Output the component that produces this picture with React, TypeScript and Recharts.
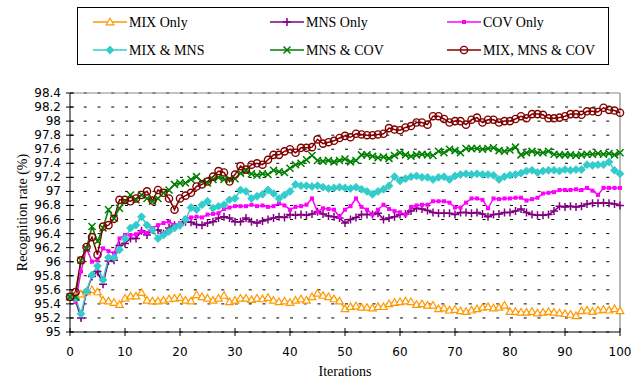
import React from "react";
import { LineChart, Line, XAxis, YAxis, CartesianGrid, ReferenceLine } from "recharts";

const mixOnly = [
  95.5, 95.51, 95.54, 95.57, 95.6, 95.57, 95.45, 95.44, 95.42, 95.39,
  95.48, 95.51, 95.51, 95.56, 95.45, 95.44, 95.44, 95.45, 95.47, 95.48,
  95.49, 95.45, 95.44, 95.53, 95.5, 95.48, 95.45, 95.48, 95.52, 95.43,
  95.45, 95.48, 95.48, 95.46, 95.48, 95.47, 95.49, 95.45, 95.43, 95.44,
  95.42, 95.45, 95.47, 95.45, 95.5, 95.55, 95.52, 95.5, 95.47, 95.44,
  95.33, 95.36, 95.37, 95.35, 95.35, 95.34, 95.36, 95.36, 95.4, 95.42,
  95.43, 95.44, 95.43, 95.39, 95.4, 95.38, 95.38, 95.33, 95.34, 95.31,
  95.32, 95.3, 95.29, 95.31, 95.33, 95.35, 95.36, 95.34, 95.35, 95.38,
  95.29, 95.29, 95.28, 95.28, 95.29, 95.27, 95.28, 95.29, 95.28, 95.27,
  95.26, 95.25, 95.23, 95.3, 95.31, 95.29, 95.31, 95.32, 95.31, 95.33,
  95.3,
];

const mnsOnly = [
  95.5, 95.45, 95.2, 95.57, 95.79, 95.86, 95.68, 96.01, 96.02, 96.23,
  96.26, 96.33, 96.33, 96.44, 96.38, 96.45, 96.45, 96.4, 96.48, 96.52,
  96.52, 96.57, 96.56, 96.53, 96.52, 96.55, 96.57, 96.62, 96.64, 96.62,
  96.57, 96.57, 96.62, 96.57, 96.55, 96.58, 96.6, 96.62, 96.64, 96.63,
  96.67, 96.66, 96.67, 96.66, 96.68, 96.71, 96.68, 96.65, 96.64, 96.62,
  96.55, 96.6, 96.63, 96.67, 96.67, 96.67, 96.69, 96.6, 96.62, 96.64,
  96.67, 96.68, 96.72, 96.76, 96.75, 96.73, 96.7, 96.69, 96.69, 96.69,
  96.67, 96.7, 96.7, 96.69, 96.7, 96.68, 96.64, 96.67, 96.68, 96.7,
  96.7, 96.72, 96.75, 96.7, 96.67, 96.66, 96.66, 96.67, 96.72, 96.79,
  96.78, 96.79, 96.78, 96.79, 96.82, 96.83, 96.83, 96.84, 96.83, 96.82,
  96.8,
];

const covOnly = [
  95.5, 95.43, 95.86, 96.19, 96.0, 96.02, 96.19, 96.15, 96.12, 96.33,
  96.38, 96.38, 96.39, 96.43, 96.41, 96.48, 96.52, 96.55, 96.57, 96.52,
  96.55, 96.62, 96.63, 96.64, 96.63, 96.67, 96.68, 96.69, 96.75, 96.77,
  96.79, 96.79, 96.79, 96.81, 96.79, 96.8, 96.78, 96.79, 96.83, 96.8,
  96.74, 96.78, 96.79, 96.81, 96.9, 96.71, 96.76, 96.75, 96.74, 96.64,
  96.74, 96.79, 96.9, 96.78, 96.74, 96.67, 96.74, 96.81, 96.75, 96.72,
  96.7, 96.67, 96.78, 96.8, 96.81, 96.81, 96.86, 96.86, 96.86, 96.84,
  96.77, 96.77, 96.84, 96.9, 96.9, 96.88, 96.76, 96.9, 96.89, 96.9,
  96.9, 96.91, 96.91, 96.87, 96.89, 96.91, 96.97, 96.98, 96.99, 97.02,
  97.02, 97.02, 97.03, 97.02, 97.05, 97.01, 96.95, 97.05, 97.05, 97.05,
  97.05,
];

const mixMns = [
  95.5, 95.48, 95.26, 95.58, 95.81, 95.94, 95.74, 96.06, 96.06, 96.17,
  96.33, 96.48, 96.52, 96.64, 96.52, 96.45, 96.33, 96.38, 96.43, 96.48,
  96.52, 96.6, 96.77, 96.74, 96.81, 96.86, 96.76, 96.79, 96.81, 96.88,
  96.9, 97.02, 97.0, 96.9, 96.93, 96.96, 97.02, 96.97, 96.9, 96.95,
  97.0, 97.1, 97.08, 97.08, 97.07, 97.08, 97.06, 97.04, 97.05, 97.06,
  97.05, 97.04, 97.06, 97.03, 97.0, 96.96, 97.0, 97.03, 97.08, 97.21,
  97.15, 97.18, 97.21, 97.22, 97.2, 97.2, 97.17, 97.2, 97.21, 97.17,
  97.22, 97.24, 97.25, 97.24, 97.25, 97.24, 97.24, 97.23, 97.17, 97.21,
  97.23, 97.24, 97.26, 97.29, 97.3, 97.27, 97.29, 97.3, 97.3, 97.29,
  97.31, 97.3, 97.31, 97.31, 97.38, 97.37, 97.38, 97.38, 97.42, 97.3,
  97.25,
];

const mnsCov = [
  95.5, 95.5, 96.02, 96.19, 96.5, 96.29, 96.48, 96.74, 96.62, 96.76,
  96.86, 96.95, 96.88, 96.95, 96.9, 96.86, 96.9, 96.98, 97.02, 97.1,
  97.12, 97.12, 97.17, 97.21, 97.14, 97.12, 97.17, 97.2, 97.17, 97.18,
  97.18, 97.26, 97.29, 97.25, 97.23, 97.25, 97.24, 97.3, 97.28, 97.27,
  97.33, 97.38, 97.4, 97.45, 97.51, 97.44, 97.43, 97.44, 97.42, 97.44,
  97.46, 97.42, 97.44, 97.52, 97.52, 97.5, 97.48, 97.49, 97.47, 97.51,
  97.55, 97.52, 97.5, 97.52, 97.53, 97.52, 97.51, 97.57, 97.55, 97.6,
  97.58, 97.55, 97.61, 97.61, 97.61, 97.6, 97.61, 97.62, 97.58, 97.57,
  97.59, 97.63, 97.52, 97.55, 97.57, 97.55, 97.55, 97.57, 97.53, 97.52,
  97.52, 97.52, 97.51, 97.52, 97.53, 97.53, 97.54, 97.53, 97.54, 97.52,
  97.55,
];

const mixMnsCov = [
  95.5, 95.57, 96.02, 96.21, 96.35, 96.1, 96.5, 96.52, 96.61, 96.88,
  96.88, 96.86, 96.9, 96.95, 97.0, 96.87, 97.02, 96.98, 96.9, 96.74,
  96.9, 96.94, 96.98, 97.07, 97.1, 97.14, 97.21, 97.29, 97.27, 97.14,
  97.24, 97.36, 97.31, 97.38, 97.4, 97.38, 97.45, 97.52, 97.52, 97.57,
  97.6, 97.55, 97.62, 97.62, 97.63, 97.74, 97.68, 97.7, 97.72, 97.76,
  97.79, 97.77, 97.82, 97.81, 97.8, 97.8, 97.81, 97.82, 97.9, 97.88,
  97.87, 97.91, 97.93, 97.98, 97.98, 97.95, 98.07, 98.07, 98.03, 97.98,
  98.0, 98.0, 97.95, 98.02, 98.05, 97.98, 98.02, 98.02, 97.98, 98.0,
  98.0, 98.03, 98.07, 98.04, 98.1, 98.1, 98.09, 98.04, 98.04, 98.05,
  98.07, 98.1, 98.1, 98.09, 98.14, 98.14, 98.13, 98.19, 98.16, 98.15,
  98.12,
];

const xTicks = [0, 10, 20, 30, 40, 50, 60, 70, 80, 90, 100];
const yTicks = [
  95, 95.2, 95.4, 95.6, 95.8, 96, 96.2, 96.4, 96.6, 96.8, 97, 97.2, 97.4,
  97.6, 97.8, 98, 98.2, 98.4,
];

const seriesNames = [
  "MIX Only",
  "MNS Only",
  "COV Only",
  "MIX & MNS",
  "MNS & COV",
  "MIX, MNS & COV",
];
const seriesKeys = ["mixOnly", "mnsOnly", "covOnly", "mixMns", "mnsCov", "mixMnsCov"];
const seriesColors = ["#FF9900", "#800080", "#FF00FF", "#33CCCC", "#008000", "#800000"];
const seriesMarkers = ["triangle", "plus", "square", "diamond", "cross", "circle"];

const data = mixOnly.map((v, i) => ({
  iter: i,
  mixOnly: v,
  mnsOnly: mnsOnly[i],
  covOnly: covOnly[i],
  mixMns: mixMns[i],
  mnsCov: mnsCov[i],
  mixMnsCov: mixMnsCov[i],
}));

function Marker({ kind, cx, cy, color }: { kind: string; cx: number; cy: number; color: string }) {
  if (cx == null || cy == null) return null;
  switch (kind) {
    case "triangle":
      return (
        <path
          d={`M${cx},${cy - 3.8} L${cx + 3.8},${cy + 2.8} L${cx - 3.8},${cy + 2.8} Z`}
          fill="#fff"
          stroke={color}
          strokeWidth={1.2}
        />
      );
    case "plus":
      return (
        <path
          d={`M${cx - 4},${cy} L${cx + 4},${cy} M${cx},${cy - 4} L${cx},${cy + 4}`}
          stroke={color}
          strokeWidth={1.5}
        />
      );
    case "square":
      return <rect x={cx - 2} y={cy - 2} width={4} height={4} fill={color} stroke="none" />;
    case "diamond":
      return (
        <path
          d={`M${cx},${cy - 4} L${cx + 4},${cy} L${cx},${cy + 4} L${cx - 4},${cy} Z`}
          fill={color}
          stroke={color}
          strokeWidth={0.8}
        />
      );
    case "cross":
      return (
        <path
          d={`M${cx - 3.5},${cy - 3.5} L${cx + 3.5},${cy + 3.5} M${cx - 3.5},${cy + 3.5} L${cx + 3.5},${cy - 3.5}`}
          stroke={color}
          strokeWidth={1.5}
        />
      );
    case "circle":
    default:
      return <circle cx={cx} cy={cy} r={3.6} fill="#fff" fillOpacity={0} stroke={color} strokeWidth={1.4} />;
  }
}

const YLabel = (props: any) => {
  const vb = props.viewBox || {};
  const x = vb.x + 22;
  const y = vb.y + vb.height / 2;
  return (
    <text
      x={x}
      y={y}
      transform={`rotate(-90, ${x}, ${y})`}
      textAnchor="middle"
      dominantBaseline="central"
      fontFamily="'Liberation Serif', serif"
      fontSize={14}
      fill="#000"
    >
      Recognition rate (%)
    </text>
  );
};

const YTick = (props: any) => {
  const { x, y, payload } = props;
  const axisX = x + 9;
  return (
    <g>
      <line x1={axisX - 4} y1={y} x2={axisX + 4} y2={y} stroke="#000" strokeWidth={1} />
      <text
        x={x}
        y={y}
        textAnchor="end"
        dominantBaseline="central"
        fill="#000"
        fontSize={12}
        fontFamily="'DejaVu Sans', sans-serif"
      >
        {String(payload.value)}
      </text>
    </g>
  );
};

const XTick = (props: any) => {
  const { x, y, payload } = props;
  const axisY = y - 20;
  return (
    <g>
      <line x1={x} y1={axisY - 4} x2={x} y2={axisY + 4} stroke="#000" strokeWidth={1} />
      <text
        x={x}
        y={y}
        textAnchor="middle"
        dominantBaseline="central"
        fill="#000"
        fontSize={12}
        fontFamily="'DejaVu Sans', sans-serif"
      >
        {String(payload.value)}
      </text>
    </g>
  );
};

const legendCols = [93, 270, 447];
const legendRows = [22, 50];

function LegendBox() {
  return (
    <svg
      width={638}
      height={80}
      style={{ position: "absolute", left: 0, top: 0, pointerEvents: "none" }}
    >
      <rect x={77.5} y={7.5} width={531} height={57} fill="#fff" stroke="#000" strokeWidth={1} />
      {seriesNames.map((name, i) => {
        const x = legendCols[i % 3];
        const y = legendRows[Math.floor(i / 3)];
        return (
          <g key={name}>
            <line x1={x} y1={y} x2={x + 34} y2={y} stroke={seriesColors[i]} strokeWidth={1.5} />
            <Marker kind={seriesMarkers[i]} cx={x + 17} cy={y} color={seriesColors[i]} />
            <text
              x={x + 36}
              y={y}
              dominantBaseline="central"
              fontFamily="'Liberation Serif', serif"
              fontSize={14}
              fill="#000"
            >
              {name}
            </text>
          </g>
        );
      })}
    </svg>
  );
}

export default function App() {
  return (
    <div style={{ position: "absolute", left: 0, top: 0, width: 638, height: 381, background: "#fff" }}>
      <LineChart
        width={638}
        height={381}
        data={data}
        margin={{ top: 93, right: 18, bottom: 19, left: 0 }}
      >
        <CartesianGrid
          vertical={false}
          stroke="#000"
          strokeWidth={1}
          strokeDasharray="3 10.75"
        />
        <ReferenceLine y={98.4} stroke="#888" strokeWidth={1.2} ifOverflow="extendDomain" />
        <ReferenceLine x={100} stroke="#888" strokeWidth={1.2} ifOverflow="extendDomain" />
        <XAxis
          dataKey="iter"
          type="number"
          domain={[0, 100]}
          ticks={xTicks}
          interval={0}
          height={30}
          stroke="#000"
          tickLine={false}
          tickSize={0}
          tickMargin={20}
          tick={<XTick />}
          label={{
            value: "Iterations",
            position: "bottom",
            offset: 4,
            fill: "#000",
            fontSize: 14,
            fontFamily: "'Liberation Serif', serif",
          }}
        />
        <YAxis
          type="number"
          domain={[95, 98.4]}
          ticks={yTicks}
          interval={0}
          width={70}
          stroke="#000"
          tickLine={false}
          tickSize={0}
          tickMargin={9}
          tick={<YTick />}
          label={<YLabel />}
        />
        {seriesKeys.map((k, i) => (
          <Line
            key={k}
            type="linear"
            dataKey={k}
            name={seriesNames[i]}
            stroke={seriesColors[i]}
            strokeWidth={1.5}
            isAnimationActive={false}
            activeDot={false}
            dot={(p: any) => (
              <Marker
                key={`${k}-${p.index}`}
                kind={seriesMarkers[i]}
                cx={p.cx}
                cy={p.cy}
                color={seriesColors[i]}
              />
            )}
          />
        ))}
      </LineChart>
      <LegendBox />
    </div>
  );
}
